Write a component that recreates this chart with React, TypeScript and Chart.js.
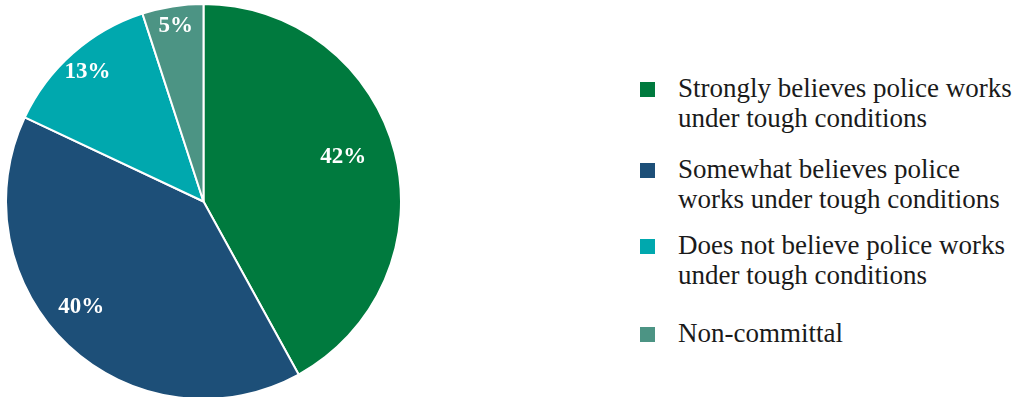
import React, { useEffect, useRef } from "react";
import { Chart, registerables } from "chart.js";

Chart.register(...registerables);

const categories = [
  ["Strongly believes police works", "under tough conditions"],
  ["Somewhat believes police", "works under tough conditions"],
  ["Does not believe police works", "under tough conditions"],
  ["Non-committal"],
];
const shares = [42, 40, 13, 5];
const sliceColors = ["#007A3E", "#1D4F78", "#00A8AE", "#4C9484"];
const labelRadius = [0.743, 0.817, 0.879, 0.899];
const labelAngleShift = [-3.2, 6, -0.5, 0];
const legendTops = [74, 155, 231, 319];

const labelPlugin = {
  id: "sliceLabels",
  afterDatasetsDraw(chart: any) {
    const ctx = chart.ctx;
    const meta = chart.getDatasetMeta(0);
    ctx.save();
    ctx.fillStyle = "#ffffff";
    ctx.font = "bold 23px 'Liberation Serif', serif";
    ctx.textAlign = "center";
    ctx.textBaseline = "middle";
    meta.data.forEach((arc: any, i: number) => {
      const { x, y, startAngle, endAngle, outerRadius } = arc.getProps(
        ["x", "y", "startAngle", "endAngle", "outerRadius"],
        true
      );
      const mid = (startAngle + endAngle) / 2 + (labelAngleShift[i] * Math.PI) / 180;
      const r = outerRadius * labelRadius[i];
      ctx.fillText(shares[i] + "%", x + Math.cos(mid) * r, y + Math.sin(mid) * r);
    });
    ctx.restore();
  },
};

export default function App() {
  const ref = useRef<HTMLCanvasElement>(null);
  useEffect(() => {
    const chart = new Chart(ref.current!, {
      type: "pie",
      data: {
        labels: categories.map((c) => c.join(" ")),
        datasets: [
          {
            data: shares,
            backgroundColor: sliceColors,
            borderColor: "#ffffff",
            borderWidth: 2,
          },
        ],
      },
      options: {
        animation: false,
        responsive: false,
        maintainAspectRatio: false,
        layout: { padding: { left: 5, top: 3, right: 0, bottom: 0 } },
        plugins: { legend: { display: false }, tooltip: { enabled: false } },
      },
      plugins: [labelPlugin],
    });
    return () => chart.destroy();
  }, []);

  return (
    <div style={{ position: "absolute", left: 0, top: 0, width: 1015, height: 397, overflow: "hidden", background: "#fff" }}>
      <canvas ref={ref} width={402} height={400} style={{ position: "absolute", left: 0, top: 0 }} />
      {categories.map((c, i) => (
        <div
          key={i}
          style={{
            position: "absolute",
            left: 640,
            top: legendTops[i],
            paddingLeft: 38,
            fontFamily: "'Liberation Serif', serif",
            fontSize: 27,
            color: "#1a1a1a",
            lineHeight: "29.5px",
          }}
        >
          <span style={{ position: "absolute", left: 0, top: 8, width: 15, height: 15, background: sliceColors[i] }} />
          {c.map((line, j) => (
            <div key={j} style={{ whiteSpace: "nowrap" }}>{line}</div>
          ))}
        </div>
      ))}
    </div>
  );
}
